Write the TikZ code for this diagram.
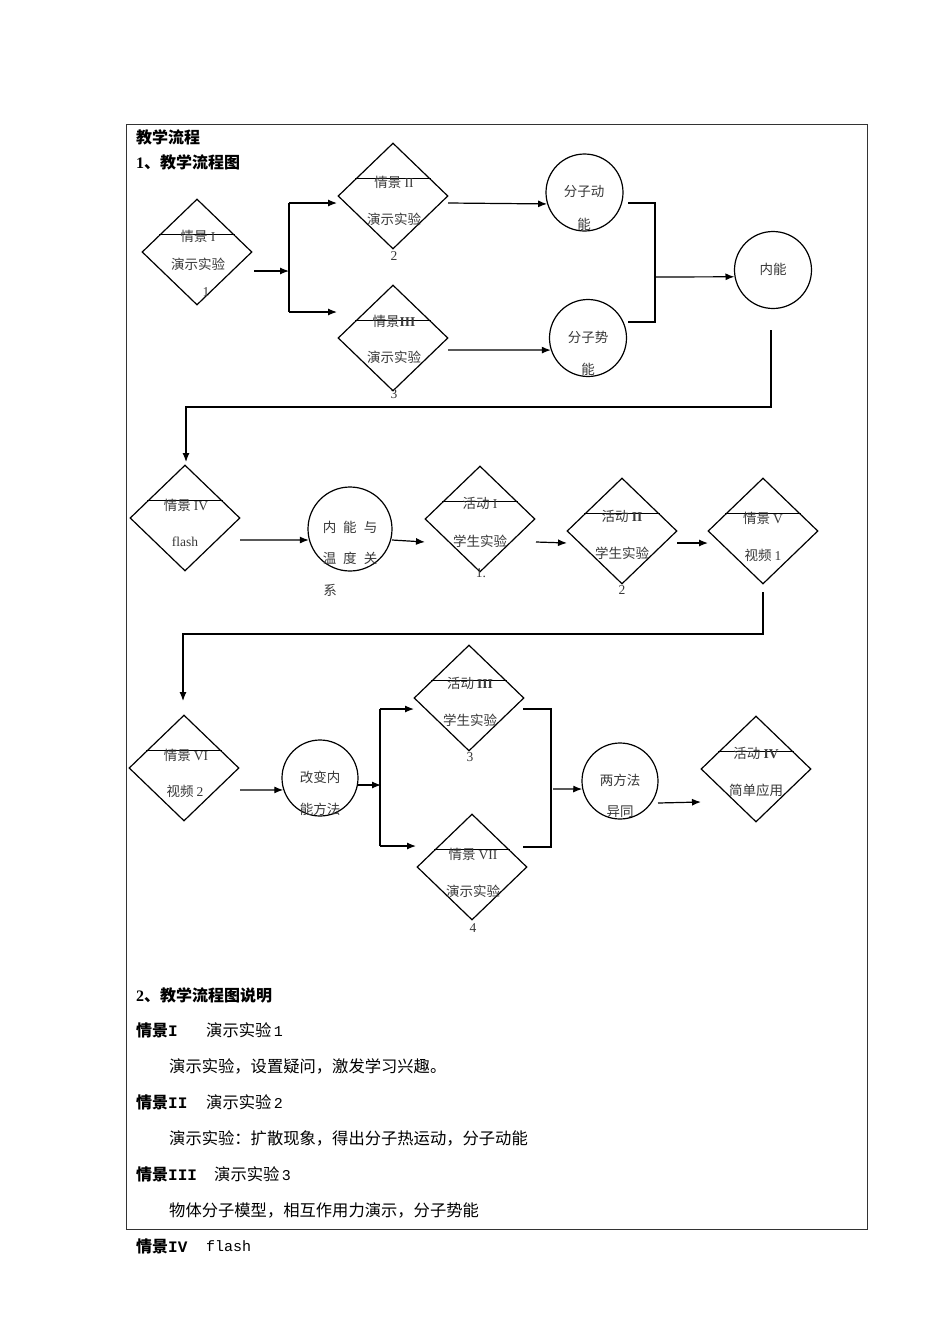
\documentclass[tikz,border=0pt]{standalone}
\usepackage{fontspec}
\setmainfont{Noto Sans CJK SC}
\newfontfamily\latf{Liberation Serif}
\newfontfamily\monof{Liberation Mono}
\usetikzlibrary{shapes.geometric,arrows.meta,calc}
\newcommand\crossline[1]{\draw[ln] ($(#1.north)!0.68!(#1.west)$) -- ($(#1.north)!0.68!(#1.east)$);}
\begin{document}
\begin{tikzpicture}[x=1pt,y=-1pt,
  dia/.style={draw, diamond, minimum width=110pt, minimum height=106pt, inner sep=0pt, line width=1.2pt},
  circ/.style={draw, circle, minimum size=77pt, inner sep=0pt, line width=1.2pt},
  lbl/.style={font=\fontsize{13.5}{14}\selectfont, text=black!78, inner sep=0pt},
  head/.style={font=\fontsize{16}{17}\selectfont\bfseries, anchor=west, inner sep=0pt},
  body/.style={font=\fontsize{16.3}{17}\selectfont, anchor=west, inner sep=0pt},
  arr/.style={-{Latex[length=9pt,width=7pt]}, line width=1.2pt},
  ln/.style={line width=1.2pt}]
\useasboundingbox (0,0) rectangle (950,1344);
\fill[white] (0,0) rectangle (950,1344);
% frame
\node[draw=black!80, line width=1pt, minimum width=741pt, minimum height=1105pt, inner sep=0pt, anchor=north west] (frame) at (126,124) {};

\node[head] (h1) at (136,137) {教学流程};
\node[head] (h2) at (136,162) {{\latf\bfseries 1}、教学流程图};

% diamonds
\node[dia] (d1) at (197,252) {};
\node[dia] (d2) at (393,196) {};
\node[dia] (d3) at (393,338) {};
\node[dia] (d4) at (185,518) {};
\node[dia] (d5) at (480,519) {};
\node[dia] (d6) at (622,531) {};
\node[dia] (d7) at (763,531) {};
\node[dia] (d8) at (184,768) {};
\node[dia] (d9) at (469,698) {};
\node[dia] (d10) at (472,867) {};
\node[dia] (d11) at (756,769) {};
\foreach \n in {d1,d2,d3,d4,d5,d6,d7,d8,d9,d10,d11} {\crossline{\n}}

% circles
\node[circ] (c1) at (584.5,192.5) {};
\node[circ] (c2) at (588,338) {};
\node[circ] (c3) at (773,270) {};
\node[circ, minimum size=84pt] (c4) at (350,529) {};
\node[circ, minimum size=76pt] (c5) at (320,778) {};
\node[circ, minimum size=76pt] (c6) at (620,781) {};

% labels
\node[lbl] (t1a) at (198,236) {情景 {\latf I}};
\node[lbl] (t1b) at (198,264) {演示实验};
\node[lbl] (t1c) at (206,292) {\latf 1};
\node[lbl] (t2a) at (394,182) {情景 {\latf II}};
\node[lbl] (t2b) at (394,219) {演示实验};
\node[lbl] (t2c) at (394,256) {\latf 2};
\node[lbl] (t3a) at (394,321) {情景{\latf\bfseries III}};
\node[lbl] (t3b) at (394,357) {演示实验};
\node[lbl] (t3c) at (394,394) {\latf 3};
\node[lbl] (tc1a) at (584,192) {分子动};
\node[lbl] (tc1b) at (584,224) {能};
\node[lbl] (tc2a) at (588,337) {分子势};
\node[lbl] (tc2b) at (588,369) {能};
\node[lbl] (tc3) at (773,269) {内能};
\node[lbl] (t4a) at (186,505) {情景 {\latf IV}};
\node[lbl] (t4b) at (185,542) {\latf flash};
\node[lbl] (tc4a) at (350,527) {内\hspace{7pt}能\hspace{7pt}与};
\node[lbl] (tc4b) at (350,558) {温\hspace{7pt}度\hspace{7pt}关};
\node[lbl] (tc4c) at (330,590) {系};
\node[lbl] (t5a) at (480,503) {活动 {\latf I}};
\node[lbl] (t5b) at (480,541) {学生实验};
\node[lbl] (t5c) at (481,573) {\latf 1.};
\node[lbl] (t6a) at (622,516) {活动 {\latf\bfseries II}};
\node[lbl] (t6b) at (622,553) {学生实验};
\node[lbl] (t6c) at (622,590) {\latf 2};
\node[lbl] (t7a) at (763,518) {情景 {\latf V}};
\node[lbl] (t7b) at (763,555) {视频 {\latf 1}};
\node[lbl] (t8a) at (186,755) {情景 {\latf VI}};
\node[lbl] (t8b) at (185,791) {视频 {\latf 2}};
\node[lbl] (tc5a) at (320,777) {改变内};
\node[lbl] (tc5b) at (320,809) {能方法};
\node[lbl] (t9a) at (470,683) {活动 {\latf\bfseries III}};
\node[lbl] (t9b) at (470,720) {学生实验};
\node[lbl] (t9c) at (470,757) {\latf 3};
\node[lbl] (t10a) at (473,854) {情景 {\latf VII}};
\node[lbl] (t10b) at (473,891) {演示实验};
\node[lbl] (t10c) at (473,928) {\latf 4};
\node[lbl] (tc6a) at (620,780) {两方法};
\node[lbl] (tc6b) at (620,812) {异同};
\node[lbl] (t11a) at (756,753) {活动 {\latf\bfseries IV}};
\node[lbl] (t11b) at (756,790) {简单应用};

% connector coordinates
\coordinate (p1) at (254,271);
\coordinate (j1) at (289,271);
\coordinate (j1t) at (289,203);
\coordinate (j1b) at (289,312);
\coordinate (e2) at (337,203);
\coordinate (e3) at (337,312);
\coordinate (s2) at (448,203);
\coordinate (s3) at (448,350);
\coordinate (b1) at (628,203);
\coordinate (b2) at (628,322);
\coordinate (bx) at (655,277);
\coordinate (r1) at (771,330);
\coordinate (r1h) at (771,407);
\coordinate (r1l) at (186,407);
\coordinate (r1e) at (186,462);
\coordinate (s4) at (240,540);
\coordinate (s5) at (392,540);
\coordinate (e5) at (425,542);
\coordinate (s6) at (536,542);
\coordinate (e6) at (567,543);
\coordinate (s7) at (677,543);
\coordinate (e7) at (708,543);
\coordinate (r2) at (763,592);
\coordinate (r2h) at (763,634);
\coordinate (r2l) at (183,634);
\coordinate (r2e) at (183,701);
\coordinate (s8) at (240,790);
\coordinate (s9) at (357,785);
\coordinate (j2) at (381,785);
\coordinate (j2t) at (380,709);
\coordinate (j2b) at (380,846);
\coordinate (e9) at (414,709);
\coordinate (e10) at (416,846);
\coordinate (k1) at (523,709);
\coordinate (k2) at (523,847);
\coordinate (kx) at (551,789);
\coordinate (ks) at (553,789);
\coordinate (s11) at (658,803);
\coordinate (e11) at (701,802);

% connectors
\draw[arr] (p1) -- (j1);
\draw[ln] (j1t) -- (j1b);
\draw[arr] (j1t) -- (e2);
\draw[arr] (j1b) -- (e3);
\draw[arr] (s2) -- (c1.197);
\draw[arr] (s3) -- (c2.198);
\draw[ln] (b1) -- (b1 -| bx) -- (b2 -| bx) -- (b2);
\draw[arr] (bx) -- (c3.190);
\draw[arr] (r1) -- (r1h) -- (r1l) -- (r1e);
\draw[arr] (s4) -- (c4.195);
\draw[arr] (s5) -- (e5);
\draw[arr] (s6) -- (e6);
\draw[arr] (s7) -- (e7);
\draw[arr] (r2) -- (r2h) -- (r2l) -- (r2e);
\draw[arr] (s8) -- (c5.198);
\draw[arr] (s9) -- (j2);
\draw[ln] (j2t) -- (j2b);
\draw[arr] (j2t) -- (e9);
\draw[arr] (j2b) -- (e10);
\draw[ln] (k1) -- (k1 -| kx) -- (k2 -| kx) -- (k2);
\draw[arr] (ks) -- (c6.192);
\draw[arr] (s11) -- (e11);

% bottom text
\node[head] (h3) at (136,995) {{\latf\bfseries 2}、教学流程图说明};
\node[head] (q1) at (136,1030) {情景{\monof\bfseries I}};
\node[body] (q1b) at (206,1030) {演示实验{\monof\fontsize{15}{16}\selectfont\,1}};
\node[body] (q1c) at (169,1066) {演示实验，设置疑问，激发学习兴趣。};
\node[head] (q2) at (136,1102) {情景{\monof\bfseries II}};
\node[body] (q2b) at (206,1102) {演示实验{\monof\fontsize{15}{16}\selectfont\,2}};
\node[body] (q2c) at (169,1138) {演示实验：扩散现象，得出分子热运动，分子动能};
\node[head] (q3) at (136,1174) {情景{\monof\bfseries III}};
\node[body] (q3b) at (214,1174) {演示实验{\monof\fontsize{15}{16}\selectfont\,3}};
\node[body] (q3c) at (169,1210) {物体分子模型，相互作用力演示，分子势能};
\node[head] (q4) at (136,1246) {情景{\monof\bfseries IV}};
\node[body] (q4b) at (206,1246) {\monof\fontsize{15}{16}\selectfont flash};
\end{tikzpicture}
\end{document}
